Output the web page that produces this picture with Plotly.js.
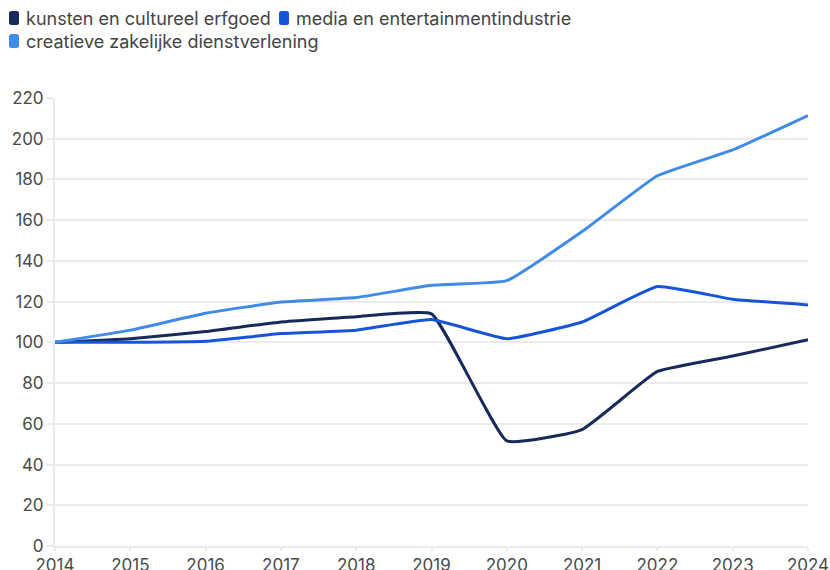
<!DOCTYPE html>
<html>
<head>
<meta charset="utf-8">
<script src="https://cdn.plot.ly/plotly-3.0.1.min.js"></script>
<style>
html,body{margin:0;padding:0;background:#fff;}
#chart{width:830px;height:570px;}
</style>
</head>
<body>
<div id="chart"></div>
<script>
const years = [2014, 2015, 2016, 2017, 2018, 2019, 2020, 2021, 2022, 2023, 2024];
const seriesNames = ["kunsten en cultureel erfgoed", "media en entertainmentindustrie", "creatieve zakelijke dienstverlening"];
const kunsten = [100, 101.8, 105.3, 110, 112.6, 114, 51.6, 57.2, 85.7, 93.3, 101.3];
const media = [100, 100, 100.5, 104.3, 106, 111.2, 101.8, 110, 127.4, 121.2, 118.4];
const creatieve = [100, 106, 114.3, 119.8, 122, 128, 130.3, 154.4, 181.8, 194.5, 211.4];
const colors = ["#172a5c", "#1655d8", "#418be8"];
const yTicks = [0, 20, 40, 60, 80, 100, 120, 140, 160, 180, 200, 220];

const allSeries = [kunsten, media, creatieve];
const traces = allSeries.map((vals, i) => ({
  x: years, y: vals, type: "scatter", mode: "lines",
  name: seriesNames[i], showlegend: false,
  line: {color: colors[i], width: 3, shape: "spline", smoothing: 0.35},
  hoverinfo: "x+y"
}));

// legend layout (pixel offsets relative to the plot's top-left corner)
const legendPos = [
  {sx: -46, tx: -31, cy: 80},
  {sx: 224, tx: 239, cy: 80},
  {sx: -46, tx: -31, cy: 57}
];
function roundRect(x0, y0, x1, y1, r) {
  return `M${x0 + r},${y0} H${x1 - r} Q${x1},${y0} ${x1},${y0 + r} V${y1 - r} Q${x1},${y1} ${x1 - r},${y1} H${x0 + r} Q${x0},${y1} ${x0},${y1 - r} V${y0 + r} Q${x0},${y0} ${x0 + r},${y0} Z`;
}
const shapes = [];
const annotations = [];
seriesNames.forEach((nm, i) => {
  const p = legendPos[i];
  shapes.push({
    type: "path", xref: "paper", yref: "paper",
    xsizemode: "pixel", ysizemode: "pixel", xanchor: 0, yanchor: 1,
    path: roundRect(p.sx, p.cy - 7, p.sx + 10, p.cy + 7, 2.5),
    fillcolor: colors[i], line: {width: 0}
  });
  annotations.push({
    xref: "paper", yref: "paper", x: 0, y: 1, xshift: p.tx, yshift: p.cy,
    xanchor: "left", yanchor: "middle", showarrow: false,
    text: nm, font: {size: 18, color: "#444"}
  });
});

const gridColor = "#ebebeb";
const layout = {
  width: 830, height: 570,
  margin: {l: 55, r: 22, t: 98, b: 24},
  paper_bgcolor: "#fff", plot_bgcolor: "#fff",
  font: {family: "Inter, 'Noto Sans', sans-serif", color: "#4a4a4a", size: 16},
  showlegend: false,
  shapes: shapes,
  annotations: annotations,
  xaxis: {
    range: [2014, 2024], tickvals: years, ticktext: years.map(String),
    showgrid: false, zeroline: false,
    showline: true, linecolor: gridColor, linewidth: 2,
    ticks: "outside", ticklen: 3, tickcolor: gridColor, tickwidth: 2,
    tickfont: {size: 17, color: "#4a4a4a"}, fixedrange: true
  },
  yaxis: {
    range: [0, 220], tickvals: yTicks,
    showgrid: true, gridcolor: gridColor, gridwidth: 2, zeroline: false,
    showline: true, linecolor: gridColor, linewidth: 2,
    ticks: "outside", ticklen: 6, tickcolor: gridColor, tickwidth: 2,
    tickfont: {size: 17, color: "#4a4a4a"}, fixedrange: true
  }
};
Plotly.newPlot("chart", traces, layout, {displayModeBar: false, staticPlot: true});
</script>
</body>
</html>
